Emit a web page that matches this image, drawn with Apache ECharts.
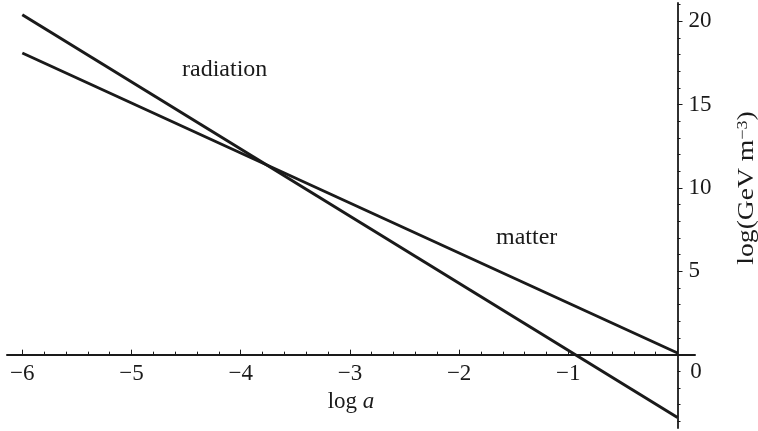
<!DOCTYPE html>
<html>
<head>
<meta charset="utf-8">
<script src="https://cdn.jsdelivr.net/npm/echarts@6/dist/echarts.min.js"></script>
<style>
  html, body { margin: 0; padding: 0; background: #fff; }
  #chart { width: 758px; height: 431px; }
</style>
</head>
<body>
<div id="chart"></div>
<script>
// data
var logA = [-6, 0];
var radiation = [20.4, -3.77];
var matter = [18.1, 0.1];
var xTickValues = [-6, -5, -4, -3, -2, -1, 0];
var xLabelValues = [-6, -5, -4, -3, -2, -1];
var yTickValues = [0, 5, 10, 15, 20];
var yLabelValues = [5, 10, 15, 20];

var FONT = 'Liberation Serif, Times New Roman, serif';
var INK = '#1a1a1a';

// grid box and axis ranges
var G = { left: 7, right: 63, top: 3, bottom: 3 };
var X_MIN = -6.14, X_MAX = 0.16, Y_MIN = -4.4, Y_MAX = 21.1;
var W = 758, H = 431;
// axes cross at (0, 0): shift them into the grid with offset
var gw = W - G.left - G.right, gh = H - G.top - G.bottom;
var yZeroPx = G.top + Y_MAX / (Y_MAX - Y_MIN) * gh;
var xZeroPx = G.left + (0 - X_MIN) / (X_MAX - X_MIN) * gw;
var xOffset = yZeroPx - (H - G.bottom);      // negative: move up
var yOffset = xZeroPx - (W - G.right);       // negative: move left

// minor ticks: 0.2 on x, 1 on y
var xMinor = [];
for (var i = -30; i <= 0; i++) xMinor.push(+(i * 0.2).toFixed(2));
var yMinor = [];
for (var j = -4; j <= 21; j++) yMinor.push(j);

function minus(v) {
    return v < 0 ? '\u2212' + Math.abs(v) : String(v);
}

var baseX = {
    type: 'value',
    position: 'bottom',
    offset: xOffset,
    min: X_MIN,
    max: X_MAX,
    splitLine: { show: false },
    axisLine: { onZero: false, lineStyle: { color: INK, width: 2 } }
};
var baseY = {
    type: 'value',
    position: 'right',
    offset: yOffset,
    min: Y_MIN,
    max: Y_MAX,
    splitLine: { show: false },
    axisLine: { onZero: false, lineStyle: { color: INK, width: 1.8 } }
};

var option = {
    animation: false,
    grid: { left: G.left, right: G.right, top: G.top, bottom: G.bottom, containLabel: false, outerBoundsMode: 'none' },
    xAxis: [
        Object.assign({}, baseX, {
            name: 'log {i|a}',
            nameLocation: 'middle',
            nameGap: 36,
            nameMoveOverlap: false,
            nameTextStyle: {
                fontFamily: FONT, fontSize: 23, color: INK,
                rich: { i: { fontFamily: FONT, fontSize: 23, fontStyle: 'italic', color: INK } }
            },
            axisTick: { inside: true, length: 5, customValues: xTickValues, lineStyle: { color: INK, width: 1 } },
            axisLabel: {
                customValues: xLabelValues, margin: 8,
                fontFamily: FONT, fontSize: 23, color: INK,
                formatter: minus
            }
        }),
        Object.assign({}, baseX, {
            axisLine: { show: false, onZero: false },
            axisTick: { inside: true, length: 3, customValues: xMinor, lineStyle: { color: INK, width: 1 } },
            axisLabel: { show: false }
        })
    ],
    yAxis: [
        Object.assign({}, baseY, {
            axisTick: { inside: false, length: 5, customValues: yTickValues, lineStyle: { color: INK, width: 1 } },
            axisLabel: {
                customValues: yLabelValues, margin: 11,
                fontFamily: FONT, fontSize: 23, color: INK
            }
        }),
        Object.assign({}, baseY, {
            axisLine: { show: false, onZero: false },
            axisTick: { inside: false, length: 3, customValues: yMinor, lineStyle: { color: INK, width: 1 } },
            axisLabel: { show: false }
        })
    ],
    graphic: [
        {
            type: 'text', left: 182, top: 58,
            style: { text: 'radiation', fontFamily: FONT, fontSize: 24, fill: INK }
        },
        {
            type: 'text', left: 496, top: 226,
            style: { text: 'matter', fontFamily: FONT, fontSize: 24, fill: INK }
        },
        {
            type: 'text', x: 696, y: 372,
            style: { text: '0', fontFamily: FONT, fontSize: 23, fill: INK, align: 'center', verticalAlign: 'middle' }
        },
        {
            type: 'text', x: 747, y: 188, rotation: Math.PI / 2, scaleX: 1.2,
            style: {
                text: 'log(GeV m{sup|\u22123})',
                fontFamily: FONT, fontSize: 23, fill: INK,
                align: 'center', verticalAlign: 'middle',
                rich: {
                    sup: { fontFamily: FONT, fontSize: 15, fill: INK, verticalAlign: 'top', lineHeight: 15 }
                }
            }
        }
    ],
    series: [
        {
            name: 'radiation',
            type: 'line',
            xAxisIndex: 0, yAxisIndex: 0,
            showSymbol: false,
            lineStyle: { color: INK, width: 3 },
            data: logA.map(function (x, k) { return [x, radiation[k]]; })
        },
        {
            name: 'matter',
            type: 'line',
            xAxisIndex: 0, yAxisIndex: 0,
            showSymbol: false,
            lineStyle: { color: INK, width: 3 },
            data: logA.map(function (x, k) { return [x, matter[k]]; })
        }
    ]
};

var chart = echarts.init(document.getElementById('chart'));
chart.setOption(option);
</script>
</body>
</html>
